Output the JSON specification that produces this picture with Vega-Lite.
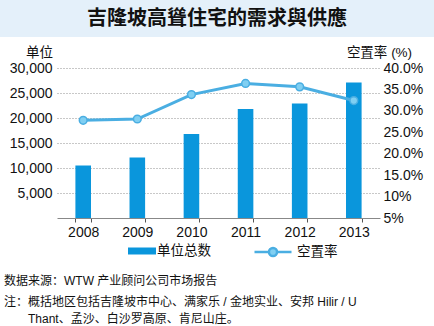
{
  "$schema": "https://vega.github.io/schema/vega-lite/v6.json",
  "padding": 0,
  "spacing": 31,
  "bounds": "flush",
  "center": true,
  "background": "white",
  "config": {
    "font": "Liberation Sans, Noto Sans CJK SC",
    "view": {"stroke": null},
    "axis": {"labelColor": "#111", "titleColor": "#111", "labelFont": "Liberation Sans, Noto Sans CJK SC", "titleFont": "Liberation Sans, Noto Sans CJK SC"}
  },
  "title": {
    "text": "数据来源：WTW 产业顾问公司市场报告",
    "subtitle": ["注：概括地区包括吉隆坡市中心、满家乐 / 金地实业、安邦 Hilir / U", "\u200b\u3000\u3000Thant、孟沙、白沙罗高原、肯尼山庄。"],
    "orient": "bottom",
    "anchor": "start",
    "frame": "bounds",
    "dx": 4,
    "offset": 14,
    "font": "Liberation Sans, Noto Sans CJK SC",
    "subtitleFont": "Liberation Sans, Noto Sans CJK SC",
    "fontSize": 12,
    "fontWeight": "normal",
    "subtitleFontSize": 12,
    "color": "#111",
    "subtitleColor": "#111",
    "subtitlePadding": 9,
    "subtitleLineHeight": 17
  },
  "vconcat": [
    {
      "width": 437,
      "height": 37,
      "view": {"fill": "#e4f0fa", "stroke": null},
      "data": {"values": [{"t": "吉隆坡高聳住宅的需求與供應"}]},
      "mark": {"type": "text", "fontSize": 20, "fontWeight": "bold", "font": "Noto Sans CJK TC", "color": "#111", "dx": -1.5},
      "encoding": {"text": {"field": "t", "type": "nominal"}}
    },
    {
      "width": 323,
      "height": 150,
      "data": {"values": [
        {"year": "2008", "units": 10500, "rate": 27.8},
        {"year": "2009", "units": 12100, "rate": 28.1},
        {"year": "2010", "units": 16800, "rate": 33.8},
        {"year": "2011", "units": 21800, "rate": 36.4},
        {"year": "2012", "units": 22900, "rate": 35.6},
        {"year": "2013", "units": 27100, "rate": 32.4}
      ]},
      "encoding": {
        "x": {"field": "year", "type": "ordinal", "scale": {"paddingInner": 0.712, "paddingOuter": 0.34},
          "axis": {"title": null, "labelAngle": 0, "ticks": true, "tickBand": "extent", "tickSize": 4, "tickColor": "#555", "domainColor": "#888", "labelFontSize": 14, "labelPadding": 3}}
      },
      "layer": [
        {
          "mark": {"type": "bar"},
          "encoding": {
            "y": {"field": "units", "type": "quantitative", "scale": {"domain": [0, 30000], "nice": false},
              "axis": {"title": "单位", "titleAngle": 0, "titleX": -18, "titleY": -9, "titleAlign": "center", "titleBaseline": "bottom",
                "titleFontSize": 13.5, "titleFontWeight": "normal", "values": [5000, 10000, 15000, 20000, 25000, 30000], "format": ",d",
                "ticks": false, "tickSize": 0, "domain": false, "labelPadding": 5, "labelFontSize": 14,
                "gridDash": [1, 2], "gridColor": "#777", "gridOpacity": 0.8}},
            "fill": {"datum": "单位总数", "scale": {"range": ["#0a96dc"]},
              "legend": {"title": null, "orient": "none", "legendX": 128, "legendY": 237,
                "labelFontSize": 13.5, "labelOffset": 1, "labelColor": "#111",
                "encode": {"symbols": {"update": {"shape": {"value": "M-1,-0.25H1V0.25H-1Z"}, "size": {"value": 784}, "strokeWidth": {"value": 0}, "fill": {"value": "#0a96dc"}}}}}}
          }
        },
        {
          "mark": {"type": "line", "strokeWidth": 3, "point": {"filled": true, "fill": "#80cff2", "strokeWidth": 1.5, "size": 60}},
          "encoding": {
            "y": {"field": "rate", "type": "quantitative", "scale": {"domain": [5, 40], "nice": false, "zero": false},
              "axis": {"orient": "right", "title": "空置率 (%)", "titleAngle": 0, "titleX": -1, "titleY": -9, "titleAlign": "center", "titleBaseline": "bottom",
                "titleFontSize": 13.5, "titleFontWeight": "normal", "values": [5, 10, 15, 20, 25, 30, 35, 40],
                "labelExpr": "datum.value >= 15 ? format(datum.value, '.1f') + '%' : datum.value + '%'",
                "grid": false, "ticks": false, "tickSize": 0, "domain": false, "labelPadding": 3, "labelFontSize": 14}},
            "stroke": {"datum": "空置率", "scale": {"range": ["#4aaee2"]},
              "legend": {"title": null, "orient": "none", "legendX": 253, "legendY": 232,
                "labelFontSize": 13.5, "labelOffset": 4, "labelColor": "#111",
                "encode": {"symbols": {"update": {"shape": {"value": "M-1,0H-0.22M0.22,0H1M-0.22,0A0.22,0.22 0 1,1 0.22,0A0.22,0.22 0 1,1 -0.22,0Z"},
                  "size": {"value": 1369}, "strokeWidth": {"value": 2.5}, "fill": {"value": "#80cff2"}, "stroke": {"value": "#4aaee2"}, "opacity": {"value": 1}}}}}}
          }
        }
      ],
      "resolve": {"scale": {"y": "independent"}}
    }
  ]
}
